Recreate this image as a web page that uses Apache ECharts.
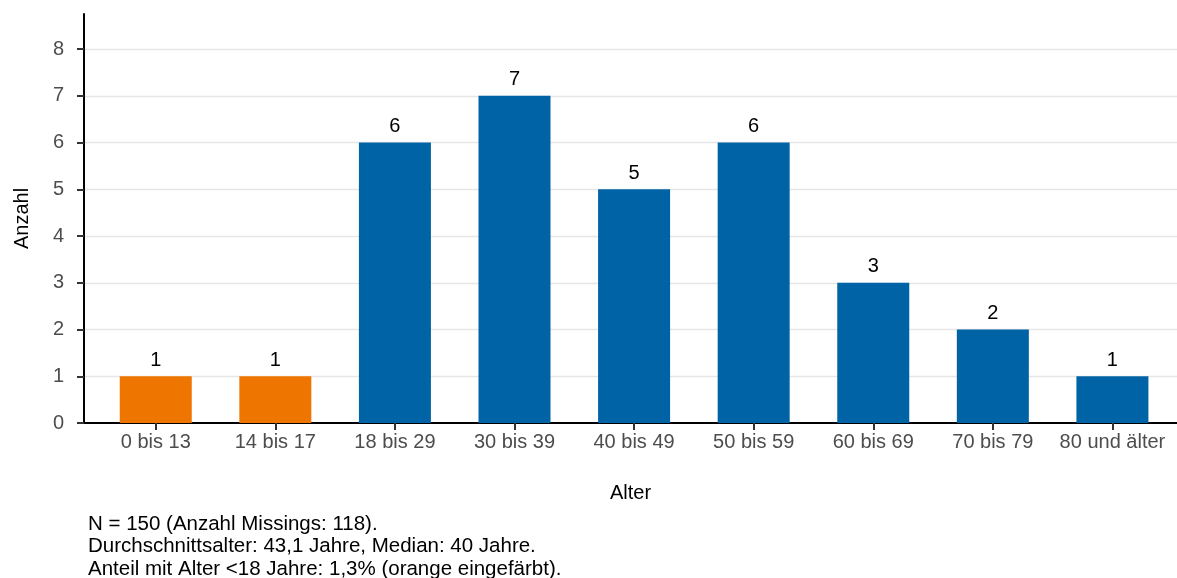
<!DOCTYPE html>
<html>
<head>
<meta charset="utf-8">
<script src="https://cdn.jsdelivr.net/npm/echarts@6/dist/echarts.min.js"></script>
<style>
html,body{margin:0;padding:0;background:#fff;}
#chart{width:1177px;height:578px;}
</style>
</head>
<body>
<div id="chart"></div>
<script>
const categories = ['0 bis 13','14 bis 17','18 bis 29','30 bis 39','40 bis 49','50 bis 59','60 bis 69','70 bis 79','80 und älter'];
const counts = [1, 1, 6, 7, 5, 6, 3, 2, 1];
const orangeCategories = ['0 bis 13','14 bis 17'];
const yTicks = [0, 1, 2, 3, 4, 5, 6, 7, 8];
const footerLines = [
  'N = 150 (Anzahl Missings: 118).',
  'Durchschnittsalter: 43,1 Jahre, Median: 40 Jahre.',
  'Anteil mit Alter <18 Jahre: 1,3% (orange eingefärbt).'
];

const FONT = 'Liberation Sans';
const FS = 20;
const BLUE = '#0063a6';
const ORANGE = '#ee7500';
const catIdx = categories.map((c, i) => i);

const chart = echarts.init(document.getElementById('chart'), null, {renderer: 'canvas'});
chart.setOption({
  animation: false,
  backgroundColor: '#ffffff',
  textStyle: {fontFamily: FONT},
  grid: {left: 84, right: 0, top: 14, bottom: 155, containLabel: false},
  xAxis: {
    type: 'value',
    min: -0.6,
    max: 8.54,
    name: 'Alter',
    nameLocation: 'middle',
    nameGap: 60,
    nameTextStyle: {color: '#000', fontSize: FS, fontFamily: FONT},
    axisLine: {show: true, onZero: false, lineStyle: {color: '#000', width: 2}},
    axisTick: {show: true, customValues: catIdx, length: 7, lineStyle: {color: '#333', width: 2}},
    axisLabel: {
      customValues: catIdx,
      margin: 9,
      color: '#4d4d4d',
      fontSize: FS,
      fontFamily: FONT,
      formatter: v => categories[Math.round(v)]
    },
    splitLine: {show: false}
  },
  yAxis: {
    type: 'value',
    min: 0,
    max: 8.75,
    interval: 1,
    name: 'Anzahl',
    nameLocation: 'middle',
    nameGap: 52,
    nameRotate: 90,
    nameTextStyle: {color: '#000', fontSize: FS, fontFamily: FONT},
    axisLine: {show: true, onZero: false, lineStyle: {color: '#000', width: 2}},
    axisTick: {show: true, customValues: yTicks, length: 7, lineStyle: {color: '#333', width: 2}},
    axisLabel: {customValues: yTicks, margin: 20, color: '#4d4d4d', fontSize: FS, fontFamily: FONT},
    splitLine: {show: false}
  },
  series: [{
    type: 'bar',
    barWidth: 72,
    data: counts.map((v, i) => ({
      value: [i, v],
      itemStyle: {color: orangeCategories.includes(categories[i]) ? ORANGE : BLUE}
    })),
    label: {
      show: true,
      position: 'top',
      distance: 6,
      color: '#000',
      fontSize: FS,
      fontFamily: FONT,
      formatter: p => p.value[1]
    },
    markLine: {
      silent: true,
      symbol: 'none',
      label: {show: false},
      lineStyle: {color: '#e6e6e6', width: 1.3, type: 'solid'},
      z: 0,
      data: yTicks.filter(t => t > 0).map(t => ({yAxis: t}))
    },
    z: 2
  }],
  graphic: [{
    type: 'text',
    left: 88,
    top: 513,
    style: {
      text: footerLines.join('\n'),
      fontSize: 20.5,
      fontFamily: FONT,
      fill: '#000',
      lineHeight: 22.5
    }
  }]
});
</script>
</body>
</html>
